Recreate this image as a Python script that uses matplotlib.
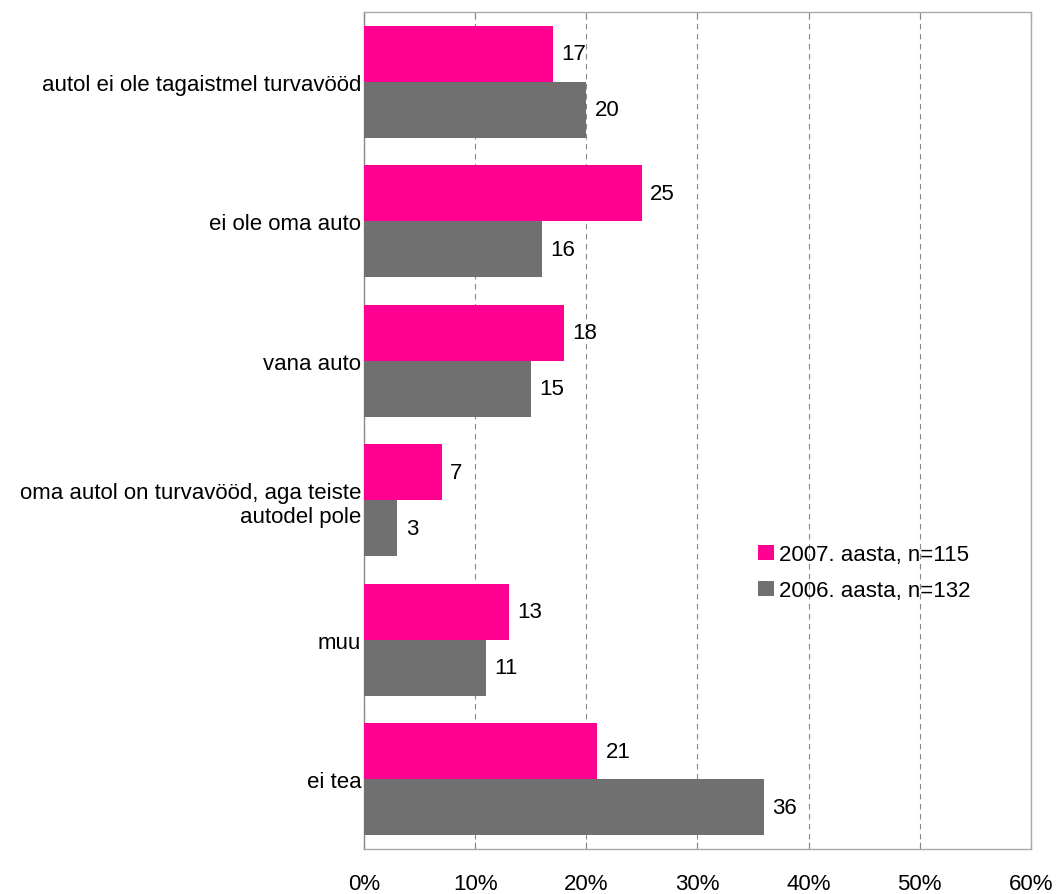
import matplotlib
matplotlib.use("Agg")
import matplotlib.pyplot as plt
import numpy as np

plt.rcParams['font.family'] = ['Liberation Sans', 'DejaVu Sans']

categories = ['autol ei ole tagaistmel turvavööd', 'ei ole oma auto', 'vana auto',
              'oma autol on turvavööd, aga teiste\nautodel pole', 'muu', 'ei tea']
v2007 = [17, 25, 18, 7, 13, 21]
v2006 = [20, 16, 15, 3, 11, 36]
labels = ['2007. aasta, n=115', '2006. aasta, n=132']
ticks = [0, 10, 20, 30, 40, 50, 60]

pink = '#FF0090'
grey = '#707070'
fs = 16

fig = plt.figure(figsize=(10.56, 8.95), dpi=100)
ax = fig.add_axes([0.3447, 0.0503, 0.9763 - 0.3447, 0.9855 - 0.0503])

y = np.arange(len(categories))
h = 0.4
b1 = ax.barh(y - h / 2, v2007, height=h, color=pink, label=labels[0], zorder=3)
b2 = ax.barh(y + h / 2, v2006, height=h, color=grey, label=labels[1], zorder=3)

for bars, vals in ((b1, v2007), (b2, v2006)):
    for bar, v in zip(bars, vals):
        ax.text(v + 0.75, bar.get_y() + bar.get_height() / 2, str(v),
                va='center', ha='left', fontsize=fs)

ax.set_xlim(0, 60)
ax.set_ylim(len(categories) - 0.5, -0.5)
ax.set_xticks(ticks)
ax.set_xticklabels([f'{t}%' for t in ticks], fontsize=fs)
ax.set_yticks(y)
ax.set_yticklabels(categories, fontsize=fs, ha='right', multialignment='right')
ax.tick_params(axis='y', length=0, pad=2)
ax.tick_params(axis='x', direction='in', length=5, pad=17, color='#888888',
               top=True)
ax.xaxis.grid(True, linestyle=(0, (5, 4)), color='#888888', linewidth=0.8, zorder=0)
for s in ax.spines.values():
    s.set_color('#aaaaaa')
    s.set_linewidth(1)
ax.spines['left'].set_color('#888888')

ax.legend(loc='center left', bbox_to_anchor=(0.591, 0.33), frameon=False,
          fontsize=fs, handlelength=0.7, handleheight=0.7, handletextpad=0.25,
          labelspacing=0.68, borderaxespad=0, borderpad=0)

fig.savefig('out.png', dpi=100)
